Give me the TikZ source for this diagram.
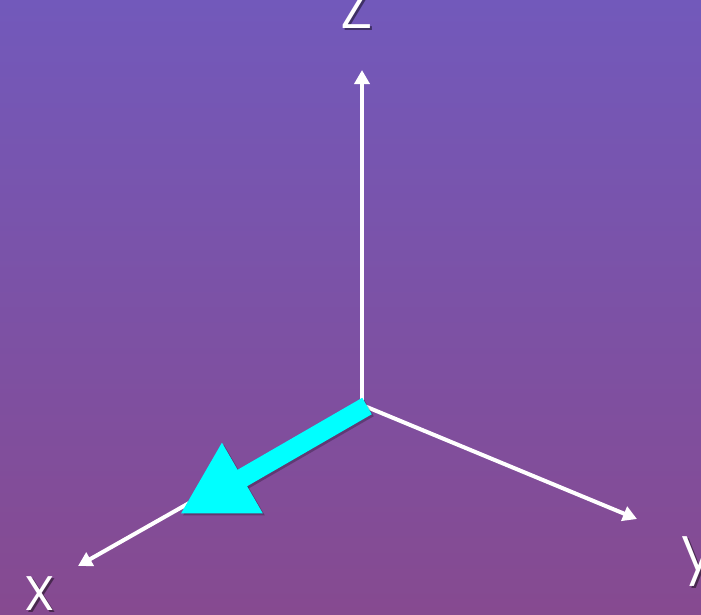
\documentclass[tikz,border=0pt]{standalone}
\usepackage{fontspec}
\newfontfamily\labelfont{Poppins}[UprightFont=* Light]
\usepackage{tikz}
\usetikzlibrary{arrows.meta}
\usepackage{xcolor}
\definecolor{bgtop}{RGB}{114, 89, 187}
\definecolor{bgbottom}{RGB}{134, 74, 144}
\definecolor{veccyan}{RGB}{0, 255, 255}

\begin{document}
\begin{tikzpicture}[x=1pt, y=-1pt,
		axis/.style={-{Triangle[length=14pt, width=15pt]}, white, line width=4pt},
		vec/.style={-{Triangle[length=72pt, width=76pt]}, veccyan, line width=19pt},
		lbl/.style={white, inner sep=0pt, font=\labelfont\fontsize{62}{62}\selectfont},
		shd/.style={black, opacity=0.45, inner sep=0pt, font=\labelfont\fontsize{62}{62}\selectfont}]
	
	%--- background ---
	\shade[top color=bgtop, bottom color=bgbottom] (0,0) rectangle (701,614);
	\useasboundingbox (0,0) rectangle (701,614);
	
	%--- axes ---
	\coordinate (O) at (362,405);
	\coordinate (zend) at (362,70);
	\coordinate (yend) at (637,519);
	\coordinate (xend) at (78,566);
	\draw[axis] (O) -- (zend);
	\draw[axis] (O) -- (yend);
	\draw[axis] (O) -- (xend);
	
	%--- labels ---
	\node[shd, anchor=base] at (359,30) {Z};
	\node[lbl, anchor=base] (zlbl) at (357,28) {Z};
	\node[shd, anchor=base west] at (683,572) {y};
	\node[lbl, anchor=base west] (ylbl) at (681,570) {y};
	\node[shd, anchor=base] at (42,612) {x};
	\node[lbl, anchor=base] (xlbl) at (40,610) {x};
	
	%--- vector along x ---
	\coordinate (vstart) at (367,406);
	\coordinate (vtip) at (180,514);
	\draw[vec, black, opacity=0.25, transform canvas={shift={(2pt,-2pt)}}] (vstart) -- (vtip);
	\draw[vec] (vstart) -- (vtip);
\end{tikzpicture}
\end{document}
